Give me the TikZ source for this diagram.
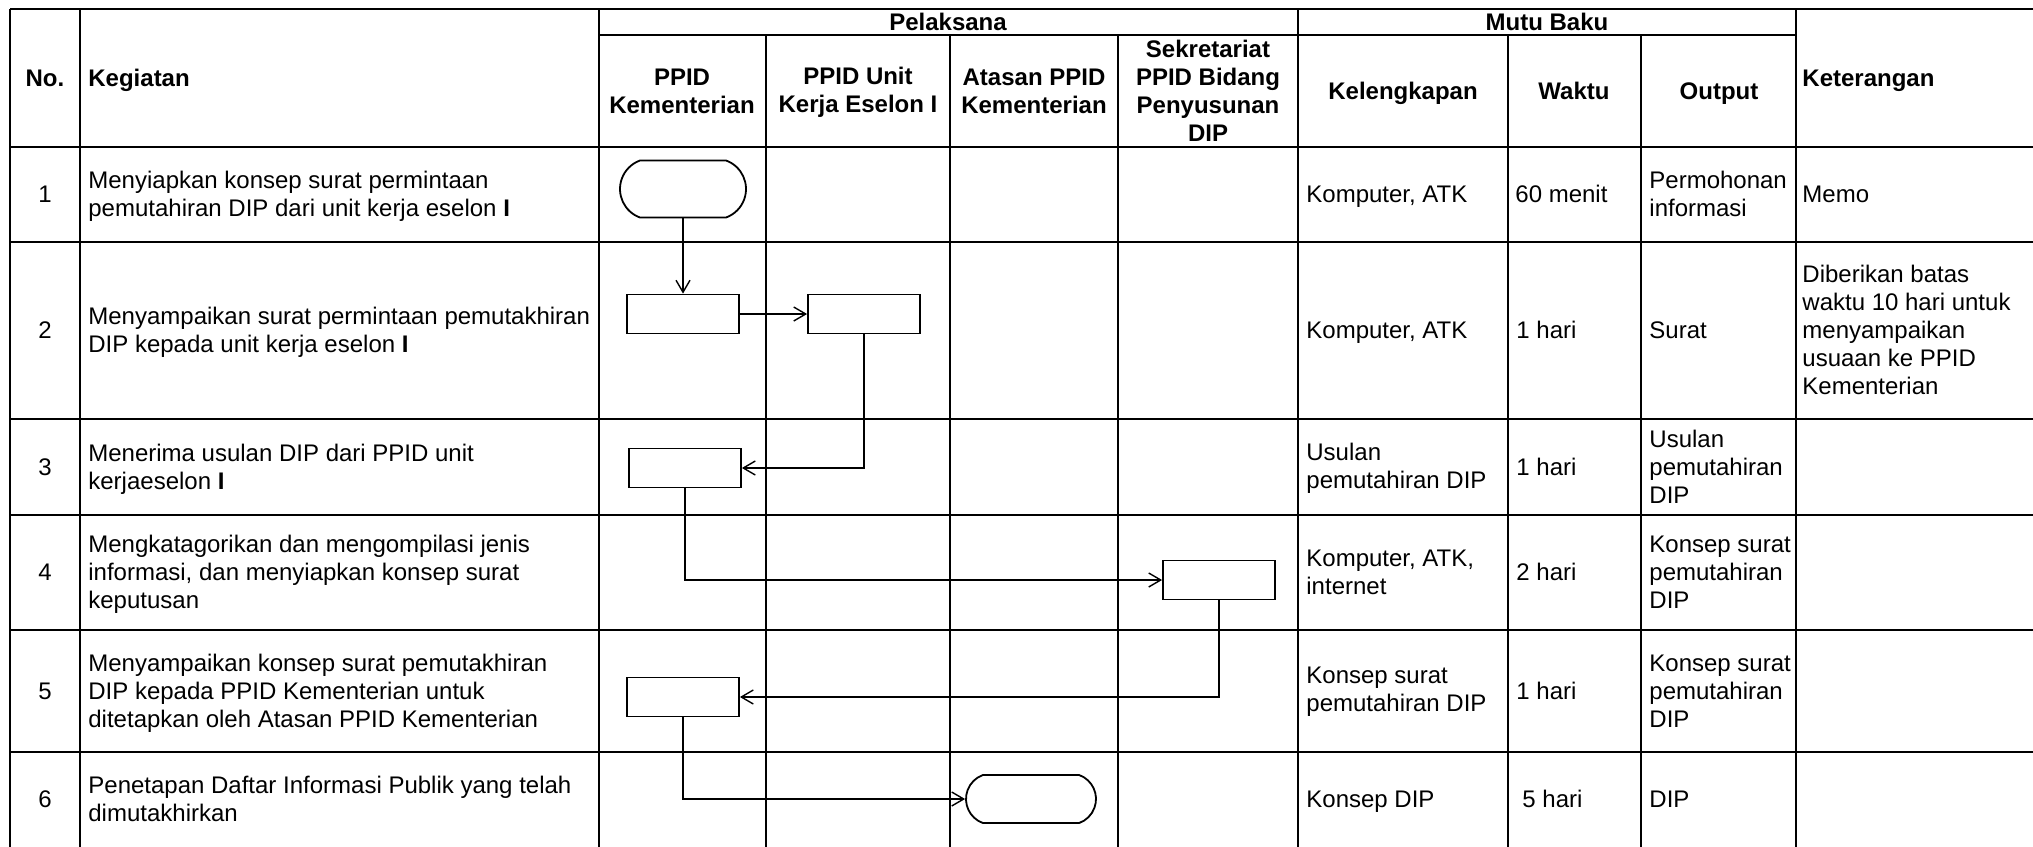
\documentclass[tikz,border=0pt]{standalone}
\usepackage{fontspec}
\setmainfont{Liberation Sans}
\usetikzlibrary{arrows.meta,shapes.misc}

\tikzset{
  grid/.style={line width=1.3pt},
  txt/.style={font=\fontsize{12}{14}\selectfont, align=left, anchor=west, inner sep=0pt},
  num/.style={font=\fontsize{12}{14}\selectfont, inner sep=0pt},
  head/.style={font=\fontsize{12}{14}\selectfont\bfseries, align=center, inner sep=0pt},
  flat/.style={text depth=0pt},
  proc/.style={draw, line width=0.9pt, minimum width=56pt, minimum height=19.5pt, inner sep=0pt},
  term/.style={draw, line width=0.9pt, rounded rectangle, rounded rectangle arc length=140, inner sep=0pt},
  flow/.style={line width=0.7pt, -{Straight Barb[length=6pt,width=7pt]}},
}

\begin{document}
\begin{tikzpicture}[x=0.5pt, y=-0.5pt]
			%%%%% START %%%%%
			\useasboundingbox (0,0) rectangle (2033,846);
			
			% table lines
			\draw[grid] (10,9) -- (2040,9);
			\draw[grid] (599,35) -- (1796,35);
			\draw[grid] (10,147) -- (2040,147);
			\draw[grid] (10,242) -- (2040,242);
			\draw[grid] (10,419) -- (2040,419);
			\draw[grid] (10,515) -- (2040,515);
			\draw[grid] (10,630) -- (2040,630);
			\draw[grid] (10,752) -- (2040,752);
			\draw[grid] (10,849) -- (2040,849);
			
			\draw[grid] (10,9) -- (10,849);
			\draw[grid] (80,9) -- (80,849);
			\draw[grid] (599,9) -- (599,849);
			\draw[grid] (766,35) -- (766,849);
			\draw[grid] (950,35) -- (950,849);
			\draw[grid] (1118,35) -- (1118,849);
			\draw[grid] (1298,9) -- (1298,849);
			\draw[grid] (1508,35) -- (1508,849);
			\draw[grid] (1641,35) -- (1641,849);
			\draw[grid] (1796,9) -- (1796,849);
			
			% header
			\node[head] (hno) at (45,78) {No.};
			\node[head, flat, anchor=west] (hkeg) at (88,78) {Kegiatan};
			\node[head] (hpel) at (948,22) {Pelaksana};
			\node[head] (hppid) at (682,91) {PPID\\Kementerian};
			\node[head] (hunit) at (858,92) {PPID Unit\\Kerja Eselon I};
			\node[head] (hatas) at (1034,91) {Atasan PPID\\Kementerian};
			\node[head] (hsek) at (1208,91) {Sekretariat\\PPID Bidang\\Penyusunan\\DIP};
			\node[head] (hmutu) at (1547,22) {Mutu Baku};
			\node[head, flat] (hkel) at (1403,91) {Kelengkapan};
			\node[head, flat] (hwak) at (1574,91) {Waktu};
			\node[head, flat] (hout) at (1719,91) {Output};
			\node[head, flat, anchor=west] (hket) at (1802,78) {Keterangan};
			
			% row 1
			\node[num] (no1) at (45,194) {1};
			\node[txt] (keg1) at (88,196) {Menyiapkan konsep surat permintaan\\pemutahiran DIP dari unit kerja eselon \textbf{I}};
			\node[txt, flat] (kel1) at (1306,194) {Komputer, ATK};
			\node[txt, flat] (wak1) at (1515,194) {60 menit};
			\node[txt] (out1) at (1649,194) {Permohonan\\informasi};
			\node[txt, flat] (ket1) at (1802,194) {Memo};
			
			% row 2
			\node[num] (no2) at (45,330) {2};
			\node[txt] (keg2) at (88,332) {Menyampaikan surat permintaan pemutakhiran\\DIP kepada unit kerja eselon \textbf{I}};
			\node[txt, flat] (kel2) at (1306,330) {Komputer, ATK};
			\node[txt, flat] (wak2) at (1516,330) {1 hari};
			\node[txt, flat] (out2) at (1649,330) {Surat};
			\node[txt] (ket2) at (1802,330) {Diberikan batas\\waktu 10 hari untuk\\menyampaikan\\usuaan ke PPID\\Kementerian};
			
			% row 3
			\node[num] (no3) at (45,467) {3};
			\node[txt] (keg3) at (88,469) {Menerima usulan DIP dari PPID unit\\kerjaeselon \textbf{I}};
			\node[txt] (kel3) at (1306,468) {Usulan\\pemutahiran DIP};
			\node[txt, flat] (wak3) at (1516,467) {1 hari};
			\node[txt] (out3) at (1649,467) {Usulan\\pemutahiran\\DIP};
			
			% row 4
			\node[num] (no4) at (45,572) {4};
			\node[txt] (keg4) at (88,574) {Mengkatagorikan dan mengompilasi jenis\\informasi, dan menyiapkan konsep surat\\keputusan};
			\node[txt] (kel4) at (1306,572) {Komputer, ATK,\\internet};
			\node[txt, flat] (wak4) at (1516,572) {2 hari};
			\node[txt] (out4) at (1649,572) {Konsep surat\\pemutahiran\\DIP};
			
			% row 5
			\node[num] (no5) at (45,691) {5};
			\node[txt] (keg5) at (88,693) {Menyampaikan konsep surat pemutakhiran\\DIP kepada PPID Kementerian untuk\\ditetapkan oleh Atasan PPID Kementerian};
			\node[txt] (kel5) at (1306,692) {Konsep surat\\pemutahiran DIP};
			\node[txt, flat] (wak5) at (1516,691) {1 hari};
			\node[txt] (out5) at (1649,691) {Konsep surat\\pemutahiran\\DIP};
			
			% row 6
			\node[num] (no6) at (45,799) {6};
			\node[txt] (keg6) at (88,799) {Penetapan Daftar Informasi Publik yang telah\\dimutakhirkan};
			\node[txt, flat] (kel6) at (1306,799) {Konsep DIP};
			\node[txt, flat] (wak6) at (1522,799) {5 hari};
			\node[txt, flat] (out6) at (1649,799) {DIP};
			
			% flow shapes
			\node[term, minimum width=63pt, minimum height=28.5pt] (t1) at (683,189) {};
			\node[proc] (b1) at (683,314) {};
			\node[proc] (b2) at (864,314) {};
			\node[proc] (b3) at (685,468) {};
			\node[proc] (b4) at (1219,580) {};
			\node[proc] (b5) at (683,697) {};
			\node[term, minimum width=65pt, minimum height=24pt] (t2) at (1031,799) {};
			
			\draw[flow] (t1.south) -- (b1.north);
			\draw[flow] (b1.east) -- (b2.west);
			\draw[flow] (b2.south) |- (b3.east);
			\draw[flow] (b3.south) |- (b4.west);
			\draw[flow] (b4.south) |- (b5.east);
			\draw[flow] (b5.south) |- (t2.west);
			
			%%%%% END %%%%%
\end{tikzpicture}
\end{document}
